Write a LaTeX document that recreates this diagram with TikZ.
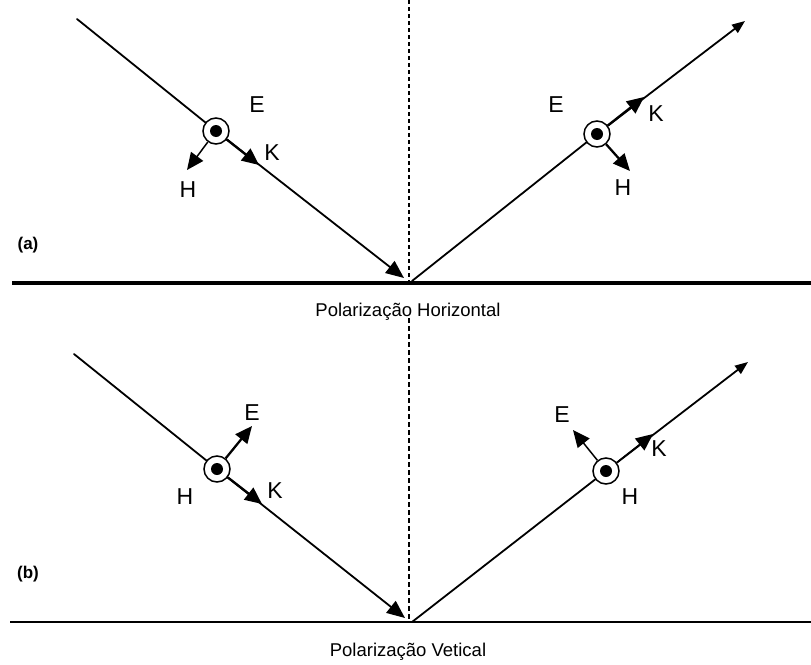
\documentclass[tikz,border=0pt]{standalone}
\usepackage{fontspec}
\setmainfont{Liberation Sans}
\usetikzlibrary{arrows.meta}
\tikzset{
  ray/.style={line width=1.8pt, line cap=round},
  bigtip/.style={-{Triangle[length=18pt,width=15pt]}},
  smalltip/.style={-{Triangle[length=13pt,width=10pt]}},
  vecarrow/.style={line width=2.3pt, -{Triangle[length=17pt,width=15pt]}},
  thinvec/.style={line width=1.5pt, -{Triangle[length=17pt,width=15pt]}},
  ring/.style={circle, draw, line width=1.5pt, fill=white, minimum size=26pt, inner sep=0pt},
  dot/.style={circle, fill=black, minimum size=12pt, inner sep=0pt},
  lbl/.style={font=\fontsize{23}{26}\selectfont, inner sep=0pt},
  ttl/.style={font=\fontsize{18.5}{22}\selectfont, inner sep=0pt},
  tag/.style={font=\bfseries\fontsize{17}{20}\selectfont, inner sep=0pt}
}
\begin{document}
\begin{tikzpicture}[x=1pt,y=-1pt]
\useasboundingbox (0,0) rectangle (811,664);
% ---------- panel (a) ----------
\coordinate (gaL) at (12,283);
\coordinate (gaR) at (811,283);
\coordinate (naT) at (409,0);
\coordinate (naB) at (409,283);
\draw[line width=1.2pt, dash pattern=on 4pt off 3pt] (naT) -- (naB);
\draw[line width=3.2pt] (gaL) -- (gaR);

\coordinate (ia0) at (77,19);
\coordinate (ia1) at (404,278);
\coordinate (ra0) at (412,281);
\coordinate (ra1) at (745,21);
\node[ring] (c1) at (216,131) {};
\node[ring] (c2) at (597,134) {};
\draw[ray] (ia0) -- (c1);
\draw[ray,bigtip] (c1) -- (ia1);
\draw[ray] (ra0) -- (c2);
\draw[ray,smalltip] (c2) -- (ra1);
\node[dot] (d1) at (c1) {};
\node[dot] (d2) at (c2) {};

\coordinate (k1) at (259,165);
\coordinate (h1) at (187,170);
\draw[vecarrow] (c1) -- (k1);
\draw[thinvec] (c1) -- (h1);
\coordinate (k2) at (644,97);
\coordinate (h2) at (630,171);
\draw[vecarrow] (c2) -- (k2);
\draw[vecarrow] (c2) -- (h2);

\node[lbl] (E1) at (257,105) {E};
\node[lbl] (K1) at (272,153) {K};
\node[lbl] (H1) at (188,190) {H};
\node[lbl] (E2) at (556,105) {E};
\node[lbl] (K2) at (656,114) {K};
\node[lbl] (H2) at (623,188) {H};

\node[tag] (ta) at (28,245) {(a)};
\node[ttl] (Ta) at (408,312) {Polarização Horizontal};

% ---------- panel (b) ----------
\coordinate (gbL) at (10,622);
\coordinate (gbR) at (811,622);
\coordinate (nbT) at (409,318);
\coordinate (nbB) at (409,622);
\draw[line width=2.2pt, dash pattern=on 5pt off 3pt] (nbT) -- (nbB);
\draw[line width=1.6pt] (gbL) -- (gbR);

\coordinate (ib0) at (74,354);
\coordinate (ib1) at (405,618);
\coordinate (rb0) at (412,622);
\coordinate (rb1) at (748,362);
\node[ring] (c3) at (217,469) {};
\node[ring] (c4) at (606,471) {};
\draw[ray] (ib0) -- (c3);
\draw[ray,bigtip] (c3) -- (ib1);
\draw[ray] (rb0) -- (c4);
\draw[ray,smalltip] (c4) -- (rb1);
\node[dot] (d3) at (c3) {};
\node[dot] (d4) at (c4) {};

\coordinate (k3) at (262,504);
\coordinate (e3) at (252,426);
\draw[vecarrow] (c3) -- (k3);
\draw[vecarrow] (c3) -- (e3);
\coordinate (k4) at (653,434);
\coordinate (e4) at (573,430);
\draw[thinvec] (c4) -- (k4);
\draw[thinvec] (c4) -- (e4);

\node[lbl] (E3) at (252,413) {E};
\node[lbl] (K3) at (275,491) {K};
\node[lbl] (H3) at (185,497) {H};
\node[lbl] (E4) at (562,415) {E};
\node[lbl] (K4) at (659,449) {K};
\node[lbl] (H4) at (630,497) {H};

\node[tag] (tb) at (28,574) {(b)};
\node[ttl] (Tb) at (408,652) {Polarização Vetical};
\end{tikzpicture}
\end{document}
